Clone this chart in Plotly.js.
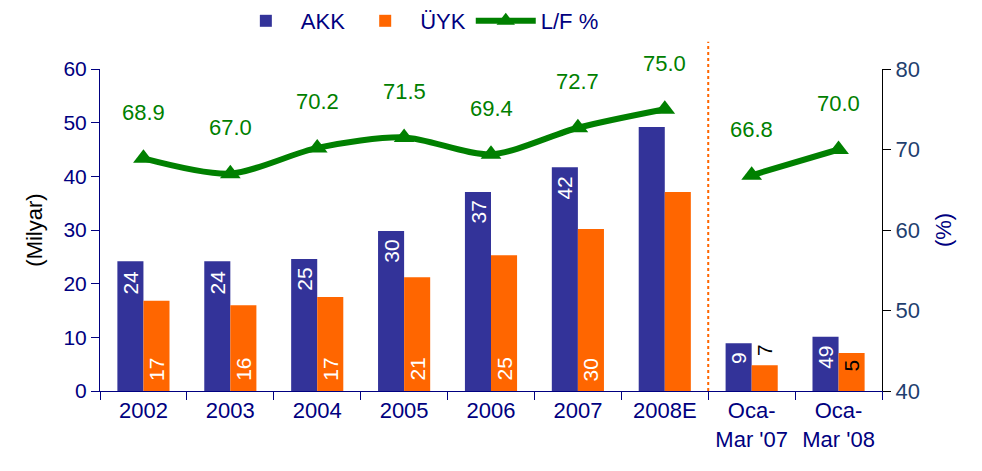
<!DOCTYPE html>
<html>
<head>
<meta charset="utf-8">
<script src="https://cdn.plot.ly/plotly-3.0.1.min.js"></script>
<style>html,body{margin:0;padding:0;background:#fff;}#chart{width:982px;height:471px;}</style>
</head>
<body>
<div id="chart"></div>
<script>
const categories = ['2002', '2003', '2004', '2005', '2006', '2007', '2008E', "Oca-<br>Mar '07", "Oca-<br>Mar '08"];
const akk = [24.2, 24.2, 24.6, 29.8, 37.1, 41.7, 49.2, 8.9, 10.1];
const uyk = [16.8, 16.0, 17.5, 21.2, 25.3, 30.2, 37.1, 4.8, 7.1];
const akkLabels = ['24', '24', '25', '30', '37', '42', '', '9', '49'];
const uykLabels = ['17', '16', '17', '21', '25', '30', '', '7', '5'];
const lf = [68.9, 67.0, 70.2, 71.5, 69.4, 72.7, 75.0, 66.8, 70.0];
const lfLabels = ['68.9', '67.0', '70.2', '71.5', '69.4', '72.7', '75.0', '66.8', '70.0'];
const yearCount = 7;

const NAVY = '#000080';
const BLUE = '#333399';
const ORANGE = '#FF6600';
const GREEN = '#008000';
const FONT = 'Liberation Sans, Arial, sans-serif';

const traces = [
  {
    type: 'bar', name: 'AKK', x: categories, y: akk,
    marker: {color: BLUE}, hoverinfo: 'x+y'
  },
  {
    type: 'bar', name: 'ÜYK', x: categories, y: uyk,
    marker: {color: ORANGE}, hoverinfo: 'x+y'
  },
  {
    type: 'scatter', mode: 'lines+markers', name: 'L/F %',
    x: categories.slice(0, yearCount), y: lf.slice(0, yearCount), yaxis: 'y2',
    line: {color: GREEN, width: 6, shape: 'spline', smoothing: 0.8},
    marker: {symbol: 'triangle-up', size: 18, color: GREEN},
    legendgroup: 'lf', cliponaxis: false
  },
  {
    type: 'scatter', mode: 'lines+markers', name: 'L/F %', showlegend: false,
    x: categories.slice(yearCount), y: lf.slice(yearCount), yaxis: 'y2',
    line: {color: GREEN, width: 6, shape: 'spline', smoothing: 0.8},
    marker: {symbol: 'triangle-up', size: 18, color: GREEN},
    legendgroup: 'lf', cliponaxis: false
  }
];

// annotations on a category axis use the category index
const BAR_HALF = 13; // px offset of each grouped bar from the category centre
const annotations = [];
lf.forEach((v, i) => annotations.push({
  x: i, y: v, xref: 'x', yref: 'y2',
  text: lfLabels[i], showarrow: false, yshift: 46,
  font: {family: FONT, size: 22, color: GREEN}
}));
// AKK: white, rotated, just inside the top of the bar
akkLabels.forEach((t, i) => {
  if (!t) return;
  annotations.push({
    x: i, y: akk[i], xref: 'x', yref: 'y', text: t, showarrow: false,
    textangle: -90, xshift: -BAR_HALF, yanchor: 'top', yshift: -7,
    font: {family: FONT, size: 21, color: '#FFFFFF'}
  });
});
// ÜYK: white at the foot of the year bars; black near the top for the quarter bars
uykLabels.forEach((t, i) => {
  if (!t) return;
  const quarter = i >= yearCount;
  const above = quarter && uyk[i] < 6;
  annotations.push({
    x: i, xref: 'x', yref: 'y', text: t, showarrow: false, textangle: -90,
    xshift: BAR_HALF,
    y: quarter ? uyk[i] : 0,
    yanchor: quarter ? (above ? 'bottom' : 'top') : 'bottom',
    yshift: quarter ? (above ? 7 : -5) : 8,
    font: {family: FONT, size: 21, color: quarter ? '#000000' : '#FFFFFF'}
  });
});

const layout = {
  width: 982, height: 471,
  margin: {l: 100, r: 100, t: 69, b: 80, pad: 0},
  paper_bgcolor: '#FFFFFF', plot_bgcolor: '#FFFFFF',
  font: {family: FONT, size: 21, color: NAVY},
  barmode: 'group', bargap: 0.4, bargroupgap: 0,
  showlegend: true,
  legend: {
    orientation: 'h', xref: 'container', yref: 'container',
    x: 0.425, xanchor: 'center', y: 1.0, yanchor: 'top',
    font: {family: FONT, size: 22, color: NAVY},
    itemwidth: 60, tracegroupgap: 0, bgcolor: 'rgba(0,0,0,0)'
  },
  xaxis: {
    type: 'category', range: [-0.5, categories.length - 0.5], autorange: false,
    showline: true, linecolor: NAVY, linewidth: 1,
    ticks: 'outside', tickson: 'boundaries', ticklen: 8, tickcolor: NAVY,
    tickfont: {family: FONT, size: 22, color: NAVY}, tickangle: 0,
    showgrid: false, zeroline: false, fixedrange: true
  },
  yaxis: {
    range: [0, 60], dtick: 10, showline: true, linecolor: NAVY, linewidth: 1,
    ticks: 'outside', ticklen: 8, tickcolor: NAVY,
    tickfont: {family: FONT, size: 21, color: NAVY},
    showgrid: false, zeroline: false,
    title: {text: '(Milyar)', font: {family: FONT, size: 22, color: '#000000'}, standoff: 14}
  },
  yaxis2: {
    range: [40, 80], dtick: 10, overlaying: 'y', side: 'right',
    showline: true, linecolor: '#000000', linewidth: 1,
    ticks: 'outside', ticklen: 8, tickcolor: '#000000',
    tickfont: {family: FONT, size: 22, color: '#1F3F6F'},
    showgrid: false, zeroline: false,
    title: {text: '(%)', font: {family: FONT, size: 22, color: NAVY}, standoff: 16}
  },
  shapes: [{
    type: 'line', xref: 'x', yref: 'paper',
    x0: 6.5, x1: 6.5, y0: 0, y1: 1.085,
    line: {color: ORANGE, width: 2, dash: 'dot'}
  }],
  annotations: annotations
};

Plotly.newPlot('chart', traces, layout, {displayModeBar: false, staticPlot: true});
</script>
</body>
</html>
